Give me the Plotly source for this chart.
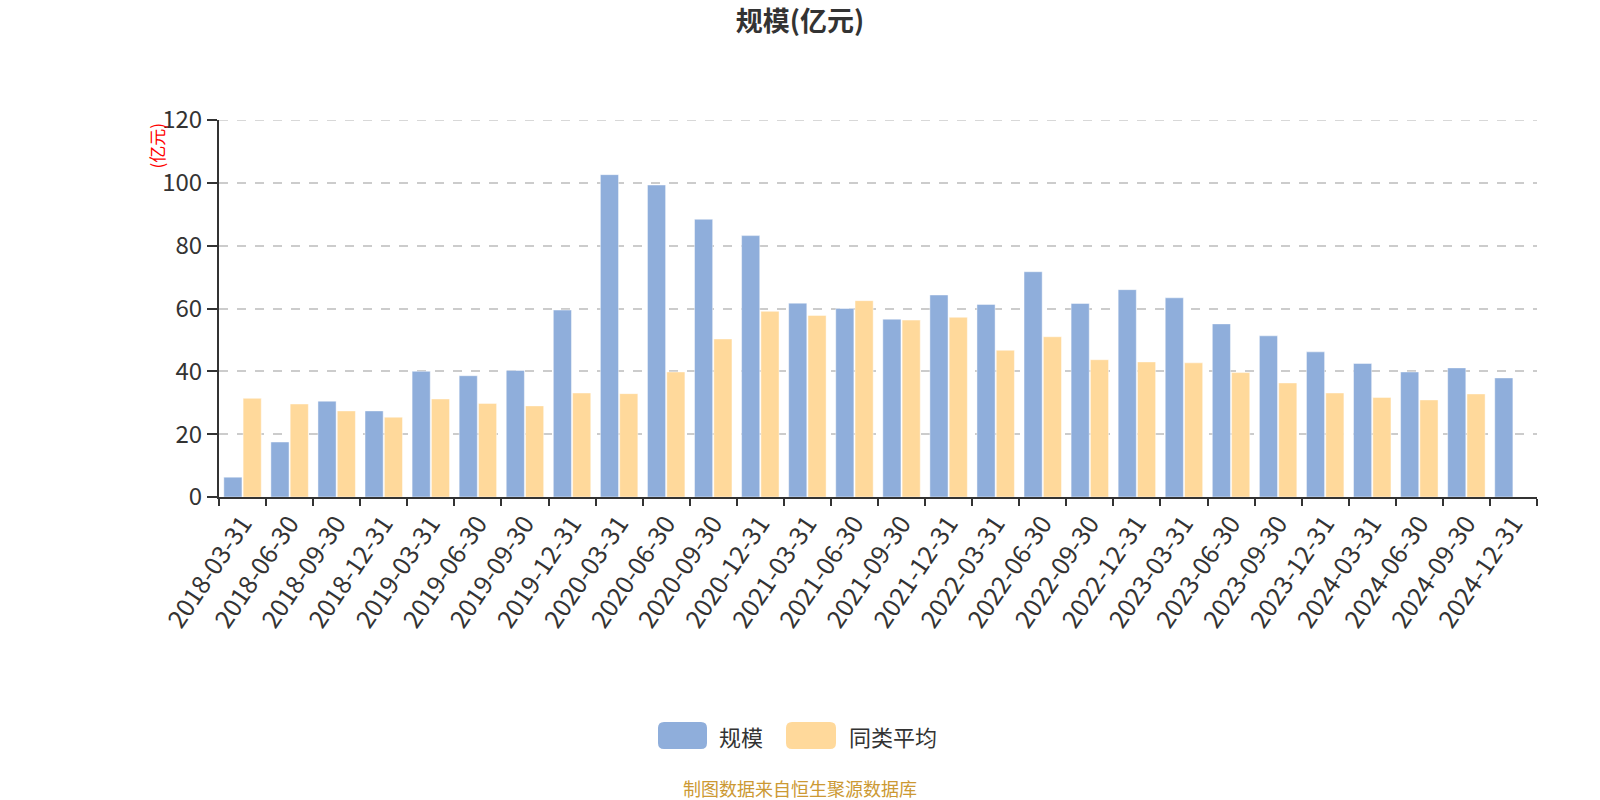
import plotly.graph_objects as go

categories = ["2018-03-31", "2018-06-30", "2018-09-30", "2018-12-31",
              "2019-03-31", "2019-06-30", "2019-09-30", "2019-12-31",
              "2020-03-31", "2020-06-30", "2020-09-30", "2020-12-31",
              "2021-03-31", "2021-06-30", "2021-09-30", "2021-12-31",
              "2022-03-31", "2022-06-30", "2022-09-30", "2022-12-31",
              "2023-03-31", "2023-06-30", "2023-09-30", "2023-12-31",
              "2024-03-31", "2024-06-30", "2024-09-30", "2024-12-31"]

scale_values = [6.3, 17.5, 30.5, 27.4, 40.0, 38.6, 40.3, 59.5,
                102.6, 99.3, 88.4, 83.2, 61.7, 60.0, 56.6, 64.3,
                61.3, 71.7, 61.6, 66.0, 63.4, 55.1, 51.3, 46.2,
                42.5, 39.8, 41.1, 37.9]

peer_avg_values = [31.4, 29.6, 27.4, 25.4, 31.2, 29.8, 29.0, 33.1,
                   32.9, 39.8, 50.3, 59.1, 57.8, 62.5, 56.3, 57.2,
                   46.7, 51.0, 43.7, 43.0, 42.7, 39.6, 36.3, 33.1,
                   31.7, 30.9, 32.8, None]

series_names = ["规模", "同类平均"]
colors = ["#8FAEDB", "#FFD99B"]
y_ticks = [0, 20, 40, 60, 80, 100, 120]
y_max = 120

FONT = "Noto Sans CJK SC, Microsoft YaHei, sans-serif"

fig = go.Figure()
fig.add_trace(go.Bar(x=categories, y=scale_values, name=series_names[0],
                     marker=dict(color=colors[0], line=dict(color="rgba(255,255,255,0.45)", width=1))))
fig.add_trace(go.Bar(x=categories, y=peer_avg_values, name=series_names[1],
                     marker=dict(color=colors[1], line=dict(color="rgba(255,255,255,0.45)", width=1))))

W, H = 1600, 800
ml, mr, mt, mb = 219, 63, 120, 303
pw = W - ml - mr
ph = H - mt - mb

def px_x(x):
    return (x - ml) / pw

def px_y(y):
    return (H - mb - y) / ph

fig.update_layout(
    width=W, height=H,
    margin=dict(l=ml, r=mr, t=mt, b=mb, pad=0),
    paper_bgcolor="white", plot_bgcolor="white",
    showlegend=False,
    barmode="group", bargap=0.18, bargroupgap=0.06,
    font=dict(family=FONT, color="#333333"),
    title=dict(text="<b>规模(亿元)</b>", x=0.5, xanchor="center", y=1 - 22 / H, yanchor="middle",
               font=dict(size=27, color="#333333", family=FONT)),
    xaxis=dict(type="category", tickangle=-56, tickson="boundaries", ticks="outside", ticklen=7,
               tickwidth=1.5, tickcolor="#333333", showline=True, linecolor="#333333", linewidth=2,
               showgrid=False, tickfont=dict(size=25, color="#333333", family=FONT)),
    yaxis=dict(range=[0, y_max], tickvals=y_ticks, ticks="outside", ticklen=10, tickwidth=2,
               tickcolor="#333333", showline=True, linecolor="#333333", linewidth=2,
               showgrid=True, gridcolor="#CCCCCC", griddash="dash", gridwidth=1.5,
               zeroline=False, tickfont=dict(size=24, color="#333333", family=FONT)),
)

# top gridline at the range edge
fig.add_shape(type="line", xref="paper", yref="y", x0=0, x1=1, y0=y_max, y1=y_max,
              line=dict(color="#CCCCCC", width=1.5, dash="dash"), layer="below")

# y-axis unit label
fig.add_annotation(text="(亿元)", xref="paper", yref="paper", x=px_x(156), y=px_y(145.5),
                   textangle=-90, showarrow=False, font=dict(size=17, color="#FF0000", family=FONT),
                   xanchor="center", yanchor="middle")

# custom legend
legend_items = [(658, 707, 717), (786, 836, 847)]
for (x0, x1, tx), name, col in zip(legend_items, series_names, colors):
    y0, y1 = 722, 749
    r = 6
    cx, cy = px_x, px_y
    ppath = (f"M {cx(x0+r)},{cy(y0)} L {cx(x1-r)},{cy(y0)} Q {cx(x1)},{cy(y0)} {cx(x1)},{cy(y0+r)} "
             f"L {cx(x1)},{cy(y1-r)} Q {cx(x1)},{cy(y1)} {cx(x1-r)},{cy(y1)} "
             f"L {cx(x0+r)},{cy(y1)} Q {cx(x0)},{cy(y1)} {cx(x0)},{cy(y1-r)} "
             f"L {cx(x0)},{cy(y0+r)} Q {cx(x0)},{cy(y0)} {cx(x0+r)},{cy(y0)} Z")
    fig.add_shape(type="path", path=ppath, xref="paper", yref="paper",
                  fillcolor=col, line=dict(width=0))
    fig.add_annotation(text=name, xref="paper", yref="paper", x=px_x(tx), y=px_y(735.5),
                       xanchor="left", yanchor="middle", showarrow=False,
                       font=dict(size=22, color="#333333", family=FONT))

# footer
fig.add_annotation(text="制图数据来自恒生聚源数据库", xref="paper", yref="paper",
                   x=px_x(800), y=px_y(788), xanchor="center", yanchor="middle",
                   showarrow=False, font=dict(size=18, color="#CC9933", family=FONT))

fig.write_html("out.html")
